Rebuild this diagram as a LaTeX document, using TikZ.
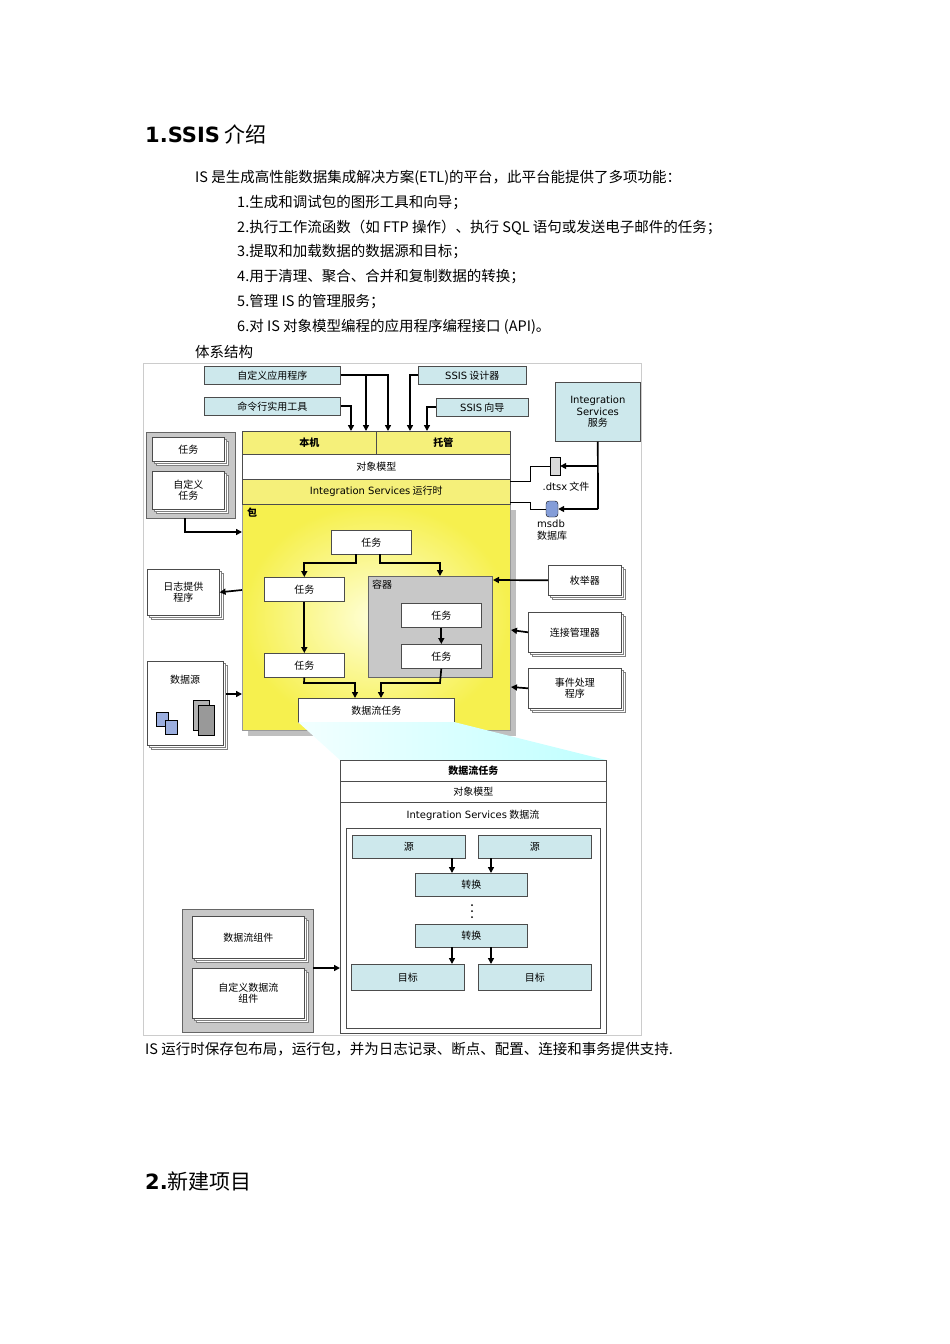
\documentclass[tikz,border=0pt]{standalone}
\usepackage{fontspec}
\setmainfont{Noto Sans CJK SC}
\newfontfamily\latf{DejaVu Sans}
\usetikzlibrary{arrows.meta,shadows}
\definecolor{lb}{HTML}{CDE8EC}
\definecolor{yl}{HTML}{F5F07A}
\definecolor{yb}{HTML}{F6F04E}
\definecolor{gr}{HTML}{C8C8C8}
\begin{document}
\begin{tikzpicture}[x=1pt,y=-1pt,
 bx/.style={draw=black!70,line width=0.6pt,inner sep=0pt,font=\fontsize{10}{11.5}\selectfont,align=center},
 blue/.style={bx,fill=lb},
 wht/.style={bx,fill=white},
 stk/.style={bx,fill=white,double copy shadow={shadow xshift=2pt,shadow yshift=-2pt,draw=black!50,fill=white}},
 ar/.style={-{Triangle[length=6pt,width=6pt]},line width=1.7pt},
 ln/.style={line width=1.7pt},
 txt/.style={anchor=west,inner sep=0pt,font=\fontsize{14.5}{16}\selectfont}]
\useasboundingbox (0,0) rectangle (950,1344);
\node[anchor=west,inner sep=0pt,font=\fontsize{21}{24}\selectfont] (t1) at (145,134) {\textbf{\latf 1.SSIS} 介绍};
\node[txt] (p0) at (195,178) {IS 是生成高性能数据集成解决方案(ETL)的平台，此平台能提供了多项功能：};
\node[txt] (p1) at (237,203) {1.生成和调试包的图形工具和向导；};
\node[txt] (p2) at (237,228) {2.执行工作流函数（如 FTP 操作）、执行 SQL 语句或发送电子邮件的任务；};
\node[txt] (p3) at (237,252) {3.提取和加载数据的数据源和目标；};
\node[txt] (p4) at (237,277) {4.用于清理、聚合、合并和复制数据的转换；};
\node[txt] (p5) at (237,302) {5.管理 IS 的管理服务；};
\node[txt] (p6) at (237,327) {6.对 IS 对象模型编程的应用程序编程接口 (API)。};
\node[txt] (p7) at (195,352) {体系结构};
% frame
\draw[black!20] (143,363) rectangle (641,1035);
% main stack
\fill[black!25] (248,510) rectangle (516,736);
\shade[inner color=yellow!15,outer color=yb] (242,504) rectangle (510,730);
\draw[black!40] (242,504) rectangle (510,730);
\node[anchor=north west,inner sep=0pt,font=\fontsize{10}{11}\selectfont\bfseries] (bao) at (247,508) {包};
\node[bx,fill=yl,minimum width=134pt,minimum height=23pt,anchor=north west,font=\fontsize{10}{11}\selectfont\bfseries] (bj) at (242,431) {本机};
\node[bx,fill=yl,minimum width=134pt,minimum height=23pt,anchor=north west,font=\fontsize{10}{11}\selectfont\bfseries] (tg) at (376,431) {托管};
\node[bx,fill=white,minimum width=268pt,minimum height=25pt,anchor=north west] (om) at (242,454) {对象模型};
\node[bx,fill=yl,minimum width=268pt,minimum height=25pt,anchor=north west] (rt) at (242,479) {{\latf Integration Services} 运行时};
% top tools
\node[blue,minimum width=136pt,minimum height=18pt,anchor=north west] (app) at (204,366) {自定义应用程序};
\node[blue,minimum width=136pt,minimum height=18pt,anchor=north west] (cmd) at (204,397) {命令行实用工具};
\node[blue,minimum width=108pt,minimum height=18pt,anchor=north west] (des) at (418,366) {{\latf SSIS} 设计器};
\node[blue,minimum width=92pt,minimum height=18pt,anchor=north west] (wiz) at (436,398) {{\latf SSIS} 向导};
\node[blue,minimum width=85pt,minimum height=59pt,anchor=north west] (svc) at (555,382) {{\latf Integration}\\{\latf Services}\\服务};
\draw[ar] (cmd.east) -| (351,431);
\draw[ar] (app.east) -| (366,431);
\draw[ar] (app.east) -| (388,431);
\draw[ar] (des.west) -| (410,431);
\draw[ar] (wiz.west) -| (427,431);
% dtsx / msdb
\node[draw,fill=black!15,minimum width=10pt,minimum height=18pt,inner sep=0pt] (dtsx) at (555,466) {};
\node[font=\fontsize{10}{11}\selectfont,inner sep=0pt] (dtl) at (566,487) {{\latf .dtsx} 文件};
\node[draw,fill=cyan!40!blue!50,minimum width=12pt,minimum height=16pt,inner sep=0pt,rounded corners=3pt] (msdb) at (552,509) {};
\node[font=\fontsize{10}{11.5}\selectfont,align=left,inner sep=0pt,anchor=north west] (msl) at (537,520) {{\latf msdb}\\数据库};
\draw[ln] (svc.south) -- (598,509);
\draw[ar] (598,466) -- (dtsx.east);
\draw[ar] (598,509) -- (msdb.east);
\draw[line width=0.8pt] (510,481) -- (530,481) |- (dtsx.west);
\draw[line width=0.8pt] (510,502) -- (530,502) |- (msdb.west);
% left stack tasks
\node[draw=black!60,fill=gr,minimum width=89pt,minimum height=86pt,anchor=north west,inner sep=0pt] (lg) at (146,432) {};
\node[stk,minimum width=72pt,minimum height=24pt,anchor=north west] (lt1) at (152,437) {任务};
\node[stk,minimum width=72pt,minimum height=38pt,anchor=north west] (lt2) at (152,471) {自定义\\任务};
\draw[ar] (185,518) |- (242,532);
% package contents
\node[wht,minimum width=80pt,minimum height=24pt,anchor=north west] (ta) at (331,530) {任务};
\node[wht,minimum width=80pt,minimum height=24pt,anchor=north west] (tb) at (264,577) {任务};
\node[wht,minimum width=80pt,minimum height=24pt,anchor=north west] (tc) at (264,653) {任务};
\node[draw=black!60,fill=gr,minimum width=124pt,minimum height=101pt,anchor=north west,inner sep=0pt] (ct) at (368,576) {};
\node[anchor=north west,inner sep=0pt,font=\fontsize{10}{11}\selectfont] (ctl) at (372,580) {容器};
\node[wht,minimum width=80pt,minimum height=24pt,anchor=north west] (td) at (401,603) {任务};
\node[wht,minimum width=80pt,minimum height=24pt,anchor=north west] (te) at (401,644) {任务};
\node[wht,minimum width=156pt,minimum height=24pt,anchor=north west] (df) at (298,698) {数据流任务};
\draw[ar] (356,554) -- (356,563) -| (tb.north);
\draw[ar] (380,554) -- (380,563) -| (440,576);
\draw[ar] (tb.south) -- (tc.north);
\draw[ar] (td.south) -- (te.north);
\draw[ar] (tc.south) -- (304,683) -| (355,698);
\draw[ar] (te.south) -- (440,683) -| (381,698);
% left side
\node[stk,minimum width=72pt,minimum height=46pt,anchor=north west] (log) at (147,569) {日志提供\\程序};
\draw[ar] (242,590) -- (log.east);
\node[stk,minimum width=76pt,minimum height=84pt,anchor=north west] (ds) at (147,661) {};
\node[font=\fontsize{10}{11}\selectfont,inner sep=0pt] (dsl) at (185,680) {数据源};
\draw[fill=cyan!40!blue!40] (156,712) rectangle (168,726);
\draw[fill=cyan!40!blue!40] (165,720) rectangle (177,734);
\draw[fill=black!30] (193,700) rectangle (209,730);
\draw[fill=black!40] (198,705) rectangle (214,735);
\draw[ar] (226,694) -- (242,694);
% right side
\node[stk,minimum width=73pt,minimum height=30pt,anchor=north west] (en) at (548,565) {枚举器};
\node[stk,minimum width=93pt,minimum height=40pt,anchor=north west] (cm) at (528,612) {连接管理器};
\node[stk,minimum width=93pt,minimum height=40pt,anchor=north west] (eh) at (528,668) {事件处理\\程序};
\draw[ar] (en.west) -- (493,580);
\draw[ar] (cm.west) -- (511,630);
\draw[ar] (eh.west) -- (511,687);
% zoom trapezoid
\shade[left color=cyan!5,right color=cyan!25] (298,722) -- (454,722) -- (606,760) -- (340,760) -- cycle;
% data flow box
\node[bx,fill=white,minimum width=266pt,minimum height=273pt,anchor=north west] (dfb) at (340,760) {};
\node[bx,fill=white,minimum width=266pt,minimum height=21pt,anchor=north west,font=\fontsize{10}{11}\selectfont\bfseries] (dfh) at (340,760) {数据流任务};
\node[bx,fill=white,minimum width=266pt,minimum height=21pt,anchor=north west] (dfo) at (340,781) {对象模型};
\node[font=\fontsize{10}{11}\selectfont,inner sep=0pt] (dfl) at (473,815) {{\latf Integration Services} 数据流};
\draw[black!70] (346,828) rectangle (600,1028);
\node[blue,minimum width=113pt,minimum height=23pt,anchor=north west] (s1) at (352,835) {源};
\node[blue,minimum width=113pt,minimum height=23pt,anchor=north west] (s2) at (478,835) {源};
\node[blue,minimum width=112pt,minimum height=23pt,anchor=north west] (c1) at (415,873) {转换};
\node[blue,minimum width=112pt,minimum height=23pt,anchor=north west] (c2) at (415,924) {转换};
\node[blue,minimum width=113pt,minimum height=26pt,anchor=north west] (d1) at (351,964) {目标};
\node[blue,minimum width=113pt,minimum height=26pt,anchor=north west] (d2) at (478,964) {目标};
\draw[ar] (452,858) -- (452,873);
\draw[ar] (491,858) -- (491,873);
\draw[ar] (452,947) -- (452,964);
\draw[ar] (491,947) -- (491,964);
\foreach \yy in {905,911,917} \fill (472,\yy) circle (1pt);
% bottom-left components
\node[draw=black!60,fill=gr,minimum width=131pt,minimum height=123pt,anchor=north west,inner sep=0pt] (cg) at (182,909) {};
\node[stk,minimum width=112pt,minimum height=42pt,anchor=north west] (cp1) at (192,916) {数据流组件};
\node[stk,minimum width=112pt,minimum height=50pt,anchor=north west] (cp2) at (192,968) {自定义数据流\\组件};
\draw[ar] (313,968) -- (340,968);
% caption
\node[txt] (cap) at (145,1049) {IS 运行时保存包布局，运行包，并为日志记录、断点、配置、连接和事务提供支持.};
\node[anchor=west,inner sep=0pt,font=\fontsize{21}{24}\selectfont] (t2) at (145,1181) {\textbf{\latf 2.}新建项目};
\end{tikzpicture}
\end{document}
